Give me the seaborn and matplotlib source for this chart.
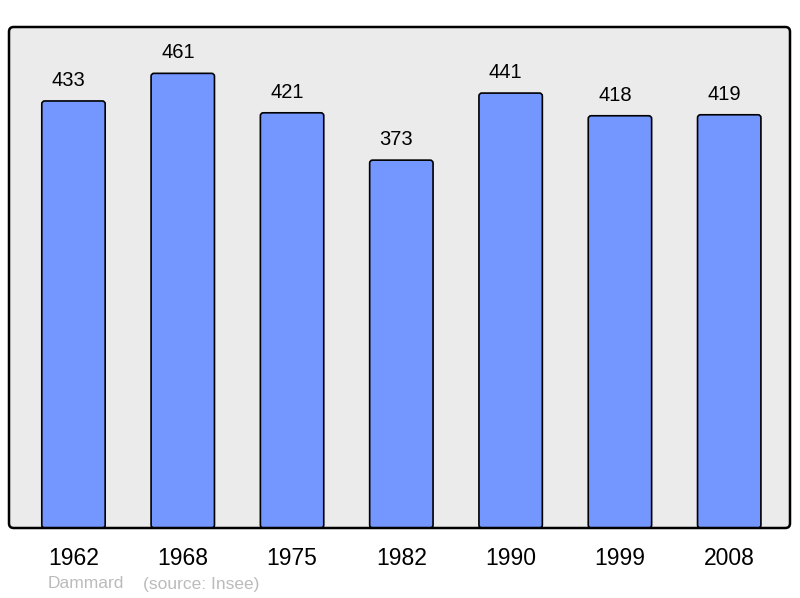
import matplotlib
matplotlib.use("Agg")
import matplotlib.pyplot as plt
from matplotlib.patches import FancyBboxPatch
import seaborn as sns
import pandas as pd

years = ["1962", "1968", "1975", "1982", "1990", "1999", "2008"]
population = [433, 461, 421, 373, 441, 418, 419]
commune = "Dammard"
source = "(source: Insee)"

sns.set_theme(style="white")
plt.rcParams['font.family'] = ['Liberation Sans', 'DejaVu Sans']

df = pd.DataFrame({"year": years, "pop": population})

fig = plt.figure(figsize=(8, 5.98), dpi=100)
ax = fig.add_axes([9/800, 70/598, 781/800, 501/598])
ax.set_facecolor("#ebebeb")

sns.barplot(data=df, x="year", y="pop", order=years, color="#7396ff",
            saturation=1, width=0.58, edgecolor="black", linewidth=1.2, ax=ax)

ax.set_xlim(-0.59, 6.556)
ax.set_ylim(0, 508)

# rounded bar corners: replace each bar drawn by seaborn with a rounded copy
px_x = 781 / (6.556 + 0.59)
px_y = 501 / 508
r_px = 3.0
for p in list(ax.patches):
    x0, y0 = p.get_x(), p.get_y()
    w, h = p.get_width(), p.get_height()
    rp = FancyBboxPatch((x0, y0), w, h,
                        boxstyle=f"round,pad=0,rounding_size={r_px / px_x}",
                        mutation_aspect=(r_px / px_y) / (r_px / px_x),
                        facecolor=p.get_facecolor(), edgecolor="black",
                        linewidth=1.2, zorder=p.get_zorder())
    p.set_visible(False)
    ax.add_patch(rp)

for i, v in enumerate(population):
    ax.annotate(str(v), (i, v), xytext=(-3.5, 8), textcoords="offset points",
                ha="center", va="bottom", fontsize=14.5, color="black")

ax.set_xlabel("")
ax.set_ylabel("")
ax.set_yticks([])
ax.tick_params(axis="x", length=0, pad=14, labelsize=16.5, colors="black")
for s in ax.spines.values():
    s.set_visible(False)

frame = FancyBboxPatch((0, 0), 1, 1, boxstyle="round,pad=0,rounding_size=0.006",
                       mutation_aspect=781/501, transform=ax.transAxes,
                       facecolor="none", edgecolor="black", linewidth=1.8,
                       clip_on=False, zorder=5)
ax.add_patch(frame)

fig.text(48/800, 1 - 584/598, commune, fontsize=12.5, color="#bbbbbb", va="center")
fig.text(143/800, 1 - 584/598, source, fontsize=12.5, color="#bbbbbb", va="center")

fig.savefig("out.png", dpi=100, facecolor="white")
